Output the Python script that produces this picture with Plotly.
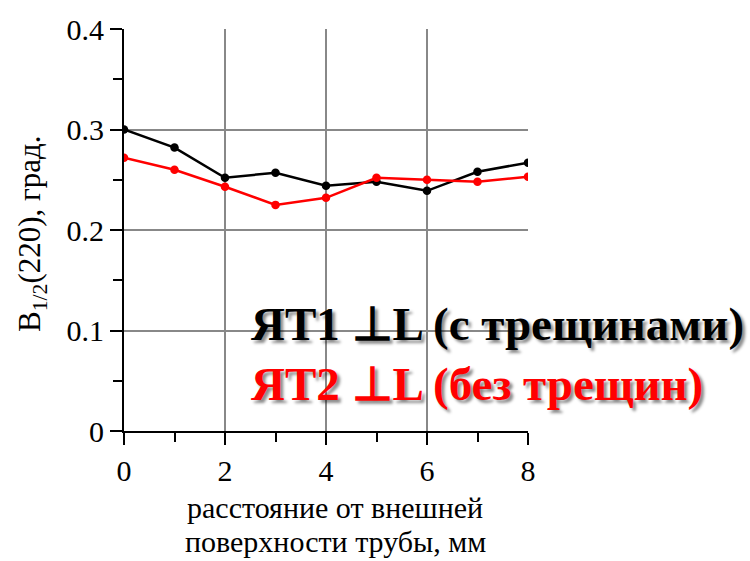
import plotly.graph_objects as go

x_mm = [0, 1, 2, 3, 4, 5, 6, 7, 8]
yt1_cracked = [0.300, 0.282, 0.252, 0.257, 0.244, 0.248, 0.239, 0.258, 0.267]
yt2_no_cracks = [0.272, 0.260, 0.243, 0.225, 0.232, 0.252, 0.250, 0.248, 0.253]

label1 = "ЯТ1 ⊥L (с трещинами)"
label2 = "ЯТ2 ⊥L (без трещин)"
x_title_lines = ["расстояние от внешней", "поверхности трубы, мм"]
y_title = "B<sub>1/2</sub>(220), град."

FONT = "Liberation Serif, Times New Roman, serif"

fig = go.Figure()
fig.add_trace(go.Scatter(x=x_mm, y=yt1_cracked, mode="lines+markers",
                         line=dict(color="black", width=2.5),
                         marker=dict(color="black", size=8.5), showlegend=False))
fig.add_trace(go.Scatter(x=x_mm, y=yt2_no_cracks, mode="lines+markers",
                         line=dict(color="#ff0000", width=2.5),
                         marker=dict(color="#ff0000", size=8.5), showlegend=False))

fig.update_layout(
    width=750, height=561,
    margin=dict(l=124, r=222, t=27, b=130),
    paper_bgcolor="white", plot_bgcolor="white",
    font=dict(family=FONT, color="black", size=30),
)
fig.update_xaxes(range=[0, 8], tickvals=[0, 2, 4, 6, 8], ticks="outside", ticklen=12,
                 tickwidth=1.5, tickcolor="black", showline=True, linecolor="black",
                 linewidth=2, showgrid=True, gridcolor="#888888", gridwidth=1.5,
                 zeroline=False, tickfont=dict(size=30, family=FONT),
                 minor=dict(tickvals=[1, 3, 5, 7], ticks="outside", ticklen=9,
                            tickcolor="black", tickwidth=1.5, showgrid=False))
fig.update_yaxes(range=[0, 0.4], tickvals=[0, 0.1, 0.2, 0.3, 0.4], ticktext=["0", "0.1", "0.2", "0.3", "0.4"],
                 ticks="outside", ticklen=12, tickwidth=1.5, tickcolor="black",
                 showline=True, linecolor="black", linewidth=2, showgrid=True,
                 gridcolor="#888888", gridwidth=1.5, zeroline=False, tickfont=dict(size=30, family=FONT),
                 minor=dict(tickvals=[0.05, 0.15, 0.25, 0.35], ticks="outside", ticklen=9,
                            tickcolor="black", tickwidth=1.5, showgrid=False))

shadow = "3px 3px 3px rgba(0,0,0,0.45)"


def px_to_dom_x(px):
    return (px - 124) / (528 - 124)


def px_to_dom_y(py):
    return (431 - py) / (431 - 27)


fig.add_annotation(x=px_to_dom_x(249), y=px_to_dom_y(323), xref="x domain", yref="y domain",
                   text="<b>" + label1 + "</b>", showarrow=False, xanchor="left", yanchor="middle",
                   font=dict(size=47, color="black", family=FONT, shadow=shadow))
fig.add_annotation(x=px_to_dom_x(249), y=px_to_dom_y(384), xref="x domain", yref="y domain",
                   text="<b>" + label2 + "</b>", showarrow=False, xanchor="left", yanchor="middle",
                   font=dict(size=47, color="#ff0000", family=FONT, shadow=shadow))
for line, cy in zip(x_title_lines, [508, 542]):
    fig.add_annotation(x=px_to_dom_x(335), y=px_to_dom_y(cy), xref="x domain", yref="y domain",
                       text=line, showarrow=False, xanchor="center", yanchor="middle",
                       borderpad=0, font=dict(size=30, color="black", family=FONT))
fig.add_annotation(x=px_to_dom_x(32), y=px_to_dom_y(233), xref="x domain", yref="y domain",
                   text=y_title, showarrow=False, textangle=-90, xanchor="center", yanchor="middle",
                   font=dict(size=31, color="black", family=FONT))

fig.write_html("out.html")
